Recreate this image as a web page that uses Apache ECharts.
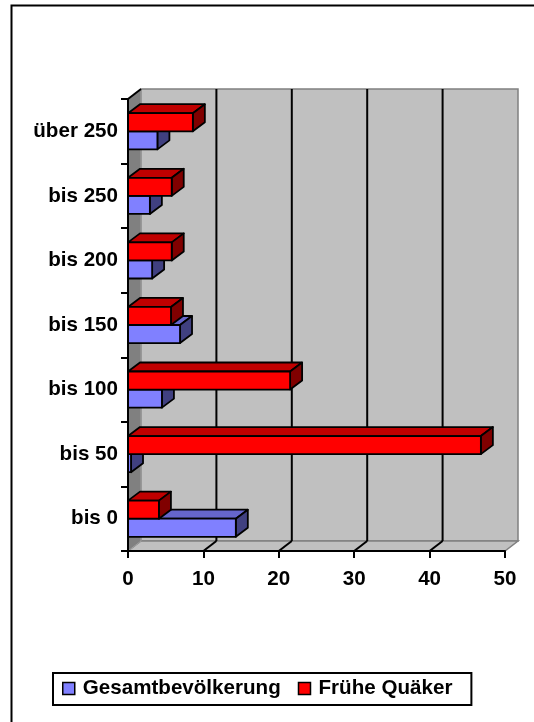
<!DOCTYPE html>
<html>
<head>
<meta charset="utf-8">
<script src="https://cdn.jsdelivr.net/npm/echarts@6/dist/echarts.min.js"></script>
<style>
html,body{margin:0;padding:0;background:#fff;}
#chart{width:534px;height:722px;}
</style>
</head>
<body>
<div id="chart"></div>
<script>
// ---- data ----
var categories = ['bis 0', 'bis 50', 'bis 100', 'bis 150', 'bis 200', 'bis 250', 'über 250'];
var gesamt = [14.3, 0.4, 4.5, 6.9, 3.2, 2.9, 3.9];
var quaker = [4.1, 46.8, 21.5, 5.7, 5.8, 5.8, 8.6];
var seriesNames = ['Gesamtbevölkerung', 'Frühe Quäker'];
var gridTicks = [10, 20, 30, 40];
var axisMax = 50;

var FONT = 'Arial, "Liberation Sans", sans-serif';
var FS = 20.6;
var DX = 13, DY = -10;     // wall depth
var BDX = 12, BDY = -9;    // bar depth

var faces = [
  {front: '#8080FF', top: '#6666CC', side: '#404080'},
  {front: '#FF0000', top: '#C00000', side: '#800000'}
];

function barItem(seriesIdx) {
  return function (params, api) {
    var val = api.value(0), cat = api.value(1);
    var p0 = api.coord([0, cat]);
    var p1 = api.coord([val, cat]);
    var band = api.size([0, 1])[1];
    var h = band * 0.28;
    var y0, y1;
    if (seriesIdx === 1) { y0 = p0[1] - h; y1 = p0[1]; }
    else { y0 = p0[1]; y1 = p0[1] + h; }
    var x0 = p0[0], x1 = p1[0];
    var f = faces[seriesIdx];
    var ls = {stroke: '#000', lineWidth: 1.8, lineJoin: 'round'};
    return {
      type: 'group',
      children: [
        {type: 'polygon', shape: {points: [[x0, y0], [x1, y0], [x1 + BDX, y0 + BDY], [x0 + BDX, y0 + BDY]]},
          style: Object.assign({fill: f.top}, ls)},
        {type: 'polygon', shape: {points: [[x1, y0], [x1 + BDX, y0 + BDY], [x1 + BDX, y1 + BDY], [x1, y1]]},
          style: Object.assign({fill: f.side}, ls)},
        {type: 'rect', shape: {x: x0, y: y0, width: x1 - x0, height: y1 - y0},
          style: Object.assign({fill: f.front}, ls)}
      ]
    };
  };
}

function wallsItem(params, api) {
  var band = api.size([0, 1])[1];
  var bot = api.coord([0, 0])[1] + band / 2;
  var top = api.coord([0, categories.length - 1])[1] - band / 2;
  var xl = api.coord([0, 0])[0];
  var xr = api.coord([axisMax, 0])[0];
  var ch = [];
  // back wall
  ch.push({type: 'rect', shape: {x: xl + DX, y: top + DY, width: xr - xl, height: bot - top},
    style: {fill: '#C0C0C0', stroke: '#808080', lineWidth: 1.5}});
  // floor
  ch.push({type: 'polygon', shape: {points: [[xl, bot], [xr, bot], [xr + DX, bot + DY], [xl + DX, bot + DY]]},
    style: {fill: '#C0C0C0', stroke: '#808080', lineWidth: 1.5}});
  // left wall
  ch.push({type: 'polygon', shape: {points: [[xl, top], [xl + DX, top + DY], [xl + DX, bot + DY], [xl, bot]]},
    style: {fill: '#808080', stroke: '#A0A0A0', lineWidth: 1}});
  // grid lines on back wall and floor
  gridTicks.forEach(function (t) {
    var x = api.coord([t, 0])[0];
    ch.push({type: 'line', shape: {x1: x + DX, y1: top + DY, x2: x + DX, y2: bot + DY},
      style: {stroke: '#000', lineWidth: 2}});
    ch.push({type: 'line', shape: {x1: x, y1: bot, x2: x + DX, y2: bot + DY},
      style: {stroke: '#000', lineWidth: 2}});
  });
  // top diagonal edge of left wall
  ch.push({type: 'line', shape: {x1: xl, y1: top, x2: xl + DX, y2: top + DY},
    style: {stroke: '#000', lineWidth: 2}});
  return {type: 'group', children: ch};
}

var chart = echarts.init(document.getElementById('chart'), null, {renderer: 'canvas'});
chart.setOption({
  animation: false,
  backgroundColor: '#fff',
  grid: {left: 128, top: 99, width: 377, height: 452},
  xAxis: {
    type: 'value', min: 0, max: axisMax, interval: 10, z: 5,
    axisLine: {show: true, lineStyle: {color: '#000', width: 2}},
    axisTick: {show: true, length: 7, lineStyle: {color: '#000', width: 2}},
    splitLine: {show: false},
    axisLabel: {color: '#000', fontSize: FS, fontWeight: 'bold', fontFamily: FONT, margin: 18}
  },
  yAxis: {
    type: 'category', data: categories, z: 5,
    axisLine: {show: true, lineStyle: {color: '#000', width: 2}},
    axisTick: {show: true, length: 7, lineStyle: {color: '#000', width: 2}},
    splitLine: {show: false},
    axisLabel: {color: '#000', fontSize: FS, fontWeight: 'bold', fontFamily: FONT, margin: 10}
  },
  legend: {
    left: 53, top: 673,
    data: seriesNames,
    icon: 'rect', itemWidth: 12, itemHeight: 12, itemGap: 17,
    padding: [5, 19, 6, 9],
    borderColor: '#000', borderWidth: 2,
    itemStyle: {borderColor: '#000', borderWidth: 1.5},
    textStyle: {color: '#000', fontSize: FS, fontWeight: 'bold', fontFamily: FONT, padding: [0, 0, 0, 3]}
  },
  graphic: [
    {type: 'polyline', shape: {points: [[11.5, 722], [11.5, 5.5], [534, 5.5]]},
      style: {stroke: '#000', lineWidth: 2, fill: null}, z: 10}
  ],
  series: [
    {type: 'custom', name: '_walls', renderItem: wallsItem, data: [[0, 0]], z: 1, silent: true,
      encode: {x: 0, y: 1}},
    {type: 'custom', name: seriesNames[0], renderItem: barItem(0), z: 2,
      itemStyle: {color: '#8080FF'},
      data: gesamt.map(function (v, i) { return [v, i]; }), encode: {x: 0, y: 1}},
    {type: 'custom', name: seriesNames[1], renderItem: barItem(1), z: 3,
      itemStyle: {color: '#FF0000'},
      data: quaker.map(function (v, i) { return [v, i]; }), encode: {x: 0, y: 1}}
  ]
});
</script>
</body>
</html>
